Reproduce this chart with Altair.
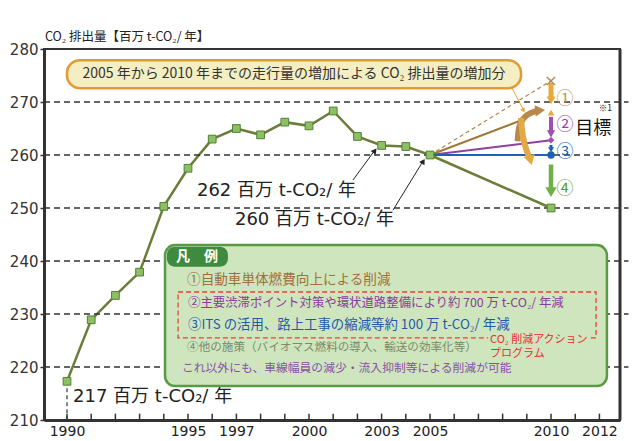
import altair as alt
import pandas as pd

FONT = "Noto Sans CJK JP"
LATIN_FONT = "DejaVu Sans, Noto Sans CJK JP"

# ---------------- data ----------------
years = list(range(1990, 2006))
emissions = [217.3, 228.9, 233.5, 237.9, 250.3, 257.5, 263.0, 265.0, 263.8,
             266.2, 265.5, 268.3, 263.5, 261.8, 261.6, 260.0]
base_year = 2005
base_value = 260.0
target_year = 2010
target_value = 250.0
no_measure_value = 274.0
after_m1_value = 268.0
after_m2_value = 262.8
after_m3_value = 260.0

x_tick_labels = [1990, 1995, 1997, 2000, 2003, 2005, 2010, 2012]
minor_tick_years = list(range(1990, 2013))
y_tick_values = [210, 220, 230, 240, 250, 260, 270, 280]
grid_values = [220, 230, 240, 250, 260, 270]

# ---------------- scales / axes ----------------
XMIN, XMAX = 1989.05, 2012.85
YMIN, YMAX = 210, 280
xs = alt.Scale(domain=[XMIN, XMAX], nice=False, zero=False)
ys = alt.Scale(domain=[YMIN, YMAX], nice=False, zero=False)
x_axis = alt.Axis(values=x_tick_labels, format="d", labelFont=LATIN_FONT, labelFontSize=14,
                  labelColor="#222", ticks=False, domainColor="#333", domainWidth=3,
                  grid=False, title=None, labelPadding=4, labelFlush=False, labelOverlap=False)
y_axis = alt.Axis(values=y_tick_values, format="d", labelFont=LATIN_FONT, labelFontSize=15,
                  labelColor="#333", tickSize=4, tickColor="#333", tickWidth=1.5,
                  domainColor="#333", domainWidth=3, grid=False, title=None, labelPadding=2)


def X():
    return alt.X("x:Q", scale=xs, axis=x_axis)


def Y():
    return alt.Y("y:Q", scale=ys, axis=y_axis)


def text_layer(rows, **kw):
    kw.setdefault("font", FONT)
    df = pd.DataFrame(rows, columns=["x", "y", "t"])
    return alt.Chart(df).mark_text(**kw).encode(x=X(), y=Y(), text="t:N")


def seg(points, **kw):
    df = pd.DataFrame(points, columns=["x", "y"])
    df["o"] = range(len(df))
    return alt.Chart(df).mark_line(**kw).encode(x=X(), y=Y(), order="o:Q")


def rect(x1, x2, y1, y2, **kw):
    df = pd.DataFrame({"x": [x1], "x2": [x2], "y": [y1], "y2": [y2]})
    return alt.Chart(df).mark_rect(**kw).encode(x=X(), x2="x2:Q", y=Y(), y2="y2:Q")


layers = []

# main series line (defines axes)
series_df = pd.DataFrame({"x": years, "y": emissions})
layers.append(alt.Chart(series_df).mark_line(color="#6B7D3A", strokeWidth=2.5)
              .encode(x=X(), y=Y()))

# grid lines (dashed)
grid_df = pd.DataFrame({"y": grid_values, "x": XMIN, "x2": 2013.2})
layers.append(alt.Chart(grid_df).mark_rule(color="#333", strokeWidth=1.3, strokeDash=[6, 4])
              .encode(x=X(), x2="x2:Q", y=Y()))

# yearly inner ticks on bottom axis
tick_df = pd.DataFrame({"x": minor_tick_years, "y": YMIN, "y2": YMIN + 1.2})
layers.append(alt.Chart(tick_df).mark_rule(color="#333", strokeWidth=1.5)
              .encode(x=X(), y=Y(), y2="y2:Q"))

# right border
layers.append(alt.Chart(pd.DataFrame({"x": [XMAX], "y": [YMIN], "y2": [YMAX]}))
              .mark_rule(color="#333", strokeWidth=3).encode(x=X(), y=Y(), y2="y2:Q"))

# 1990 dashed drop line
layers.append(alt.Chart(pd.DataFrame({"x": [years[0]], "y": [emissions[0]], "y2": [YMIN]}))
              .mark_rule(color="#333", strokeWidth=1.2, strokeDash=[4, 3])
              .encode(x=X(), y=Y(), y2="y2:Q"))

# callout box
layers.append(rect(1990.0, 2008.76, 277.9, 272.6, fill="#F4EEC2", stroke="#E39A2E",
                   strokeWidth=2.5, cornerRadius=13))
layers.append(text_layer([(1999.38, 275.3, "2005 年から 2010 年までの走行量の増加による CO₂ 排出量の増加分")],
                         fontSize=14, color="#333", align="center", baseline="middle"))

# projections from 2005
layers.append(seg([(base_year, base_value), (target_year, no_measure_value)],
                  color="#B08850", strokeWidth=1.2, strokeDash=[4, 3]))
layers.append(seg([(base_year, base_value), (2008.8, 266.6)], color="#A07A3A", strokeWidth=2.2))
layers.append(seg([(base_year, base_value), (target_year, after_m2_value)], color="#9040A0", strokeWidth=2))
layers.append(seg([(base_year, base_value), (target_year, after_m3_value)], color="#2060B0", strokeWidth=2.2))
layers.append(seg([(base_year, base_value), (target_year, target_value)], color="#6B7D3A", strokeWidth=2.5))

# callout pointer
layers.append(seg([(2008.39, 272.6), (2008.85, 268.6)], color="#E8A040", strokeWidth=1))

# curved arrows
layers.append(seg([(2008.62, 262.6), (2008.66, 265.8), (2009.0, 267.8), (2009.45, 268.4)],
                  color="#B8894A", strokeWidth=6, interpolate="basis"))
layers.append(seg([(2008.76, 267.0), (2008.82, 263.3), (2009.0, 260.6), (2009.12, 259.4)],
                  color="#E3A945", strokeWidth=6, interpolate="basis"))

# vertical step arrows at 2010
shaft_df = pd.DataFrame([
    (target_year, 273.6, 270.7, "#E8A93C", 5),
    (target_year, 267.2, 264.4, "#A050B0", 4),
    (target_year, 261.9, 261.1, "#2060B0", 3),
    (target_year, 258.2, 253.6, "#6FAF4A", 4.5),
], columns=["x", "y", "y2", "c", "w"])
layers.append(alt.Chart(shaft_df).mark_rule().encode(
    x=X(), y=Y(), y2="y2:Q", color=alt.Color("c:N", scale=None),
    strokeWidth=alt.StrokeWidth("w:Q", scale=None)))

# annotation arrows to 2003 / 2005
layers.append(seg([(2001.82, 255.3), (2002.72, 260.9)], color="#222", strokeWidth=1))
layers.append(seg([(2003.47, 249.6), (2004.72, 258.9)], color="#222", strokeWidth=1))

# data markers
layers.append(alt.Chart(series_df).mark_square(size=60, color="#8CC063", stroke="#557F38",
                                              strokeWidth=1, opacity=1).encode(x=X(), y=Y()))
layers.append(alt.Chart(pd.DataFrame({"x": [target_year], "y": [target_value]}))
              .mark_square(size=60, color="#8CC063", stroke="#557F38", strokeWidth=1, opacity=1)
              .encode(x=X(), y=Y()))

# heads and symbols
heads_df = pd.DataFrame([
    (target_year, 270.3, "triangle-down", 80, "#E8A93C", 0),
    (target_year, after_m1_value, "triangle-up", 45, "#E8A93C", 0),
    (target_year, 264.0, "triangle-down", 70, "#A050B0", 0),
    (target_year, after_m2_value, "diamond", 45, "#A050B0", 0),
    (target_year, 261.0, "triangle-down", 35, "#2060B0", 0),
    (target_year, after_m3_value, "circle", 55, "#2060B0", 0),
    (target_year, 253.0, "triangle-down", 130, "#6FAF4A", 0),
    (2002.72, 260.8, "triangle-up", 40, "#222", 37),
    (2004.72, 258.8, "triangle-up", 40, "#222", 32),
    (2008.86, 268.4, "triangle-up", 25, "#E8A040", 153),
    (2009.55, 268.4, "triangle-up", 130, "#B8894A", 85),
    (2009.15, 259.0, "triangle-up", 130, "#E3A945", 165),
], columns=["x", "y", "s", "size", "c", "a"])
layers.append(alt.Chart(heads_df).mark_point(filled=True, opacity=1).encode(
    x=X(), y=Y(), shape=alt.Shape("s:N", scale=None), size=alt.Size("size:Q", scale=None),
    color=alt.Color("c:N", scale=None), angle=alt.Angle("a:Q", scale=None)))

layers.append(text_layer([(target_year, no_measure_value, "×")], fontSize=16, color="#B08850",
                         align="center", baseline="middle", font="DejaVu Sans"))

# circled numbers & target label
for (yv, t, c) in [(270.6, "①", "#C09050"), (265.7, "②", "#9A40A0"),
                   (260.6, "③", "#2060B0"), (253.6, "④", "#5A9A40")]:
    layers.append(text_layer([(2010.58, yv, t)], fontSize=17, color=c, align="center", baseline="middle"))
layers.append(text_layer([(2011.74, 264.9, "目標")], fontSize=18, color="#111", align="center", baseline="middle"))
layers.append(text_layer([(2012.25, 268.9, "※1")], fontSize=8.5, color="#222", align="center", baseline="middle"))

# value labels
layers.append(text_layer([(1995.37, 253.2, "262 百万 t-CO₂/ 年"),
                          (1996.94, 247.7, "260 百万 t-CO₂/ 年"),
                          (1990.25, 214.3, "217 百万 t-CO₂/ 年")],
                         fontSize=18, color="#222", align="left", baseline="middle", font=LATIN_FONT))

# axis title
layers.append(text_layer([(1989.09, 282.2, "CO₂ 排出量【百万 t-CO₂/ 年】")],
                         fontSize=12.5, color="#222", align="left", baseline="middle"))

# legend box
layers.append(rect(1994.05, 2012.31, 243.0, 216.4, fill="#CFE5BE", stroke="#5A9A45",
                   strokeWidth=2.5, cornerRadius=10))
layers.append(rect(1994.13, 1996.65, 242.7, 238.9, fill="#3E8A3E", cornerRadius=8))
layers.append(text_layer([(1995.37, 240.8, "凡　例")], fontSize=14, color="white",
                         fontWeight="bold", align="center", baseline="middle"))
layers.append(rect(1994.59, 2011.86, 234.15, 225.5, fill="#CFE5BE", fillOpacity=0,
                   stroke="#E8403A", strokeWidth=1.3, strokeDash=[5, 3]))
# gap in dashed frame behind the program label
layers.append(rect(2007.4, 2011.6, 226.2, 224.3, fill="#CFE5BE"))

legend_rows = [
    (1994.96, 236.4, "①自動車単体燃費向上による削減", "#A0703A", 13.6),
    (1995.0, 232.1, "②主要渋滞ポイント対策や環状道路整備により約 700 万 t-CO₂/ 年減", "#8A3C9A", 12.4),
    (1995.0, 227.9, "③ITS の活用、路上工事の縮減等約 100 万 t-CO₂/ 年減", "#1F5AA8", 13.4),
    (1994.96, 223.6, "④他の施策（バイオマス燃料の導入、輸送の効率化等）", "#7A8A6A", 11.6),
    (1994.75, 219.8, "これ以外にも、車線幅員の減少・流入抑制等による削減が可能", "#8A50A8", 11.8),
]
for (xv, yv, t, c, fs) in legend_rows:
    layers.append(text_layer([(xv, yv, t)], fontSize=fs, color=c, align="left", baseline="middle"))
layers.append(text_layer([(2007.48, 225.15, "CO₂ 削減アクション"), (2007.48, 222.4, "プログラム")],
                         fontSize=11, color="#E83030", align="left", baseline="middle"))

chart = alt.layer(*layers).properties(
    width=576, height=371,
    autosize=alt.AutoSizeParams(type="none"),
    padding={"left": 44, "top": 49, "right": 13, "bottom": 21},
    background="white",
).configure_view(stroke="#333", strokeWidth=2)

chart.save("out.html", embed_options={"renderer": "svg", "actions": False})
